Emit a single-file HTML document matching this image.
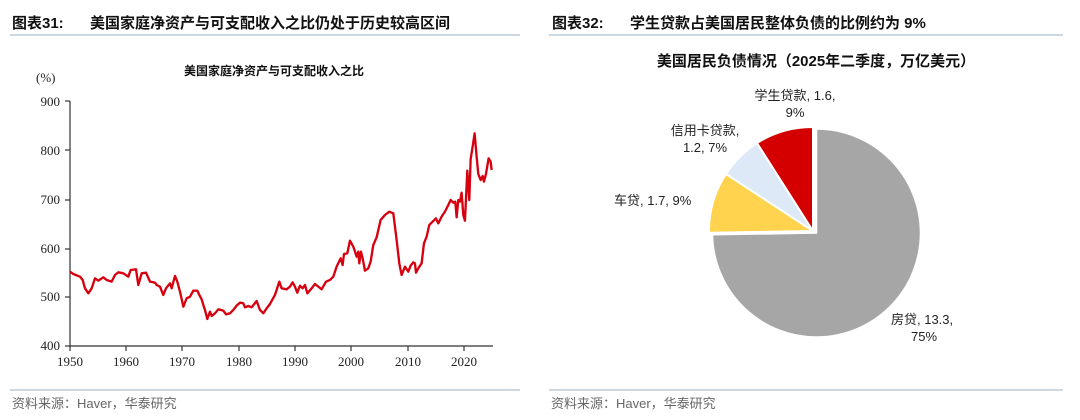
<!DOCTYPE html>
<html><head><meta charset="utf-8"><style>
body{margin:0;width:1080px;height:420px;background:#fff;overflow:hidden;font-family:"Liberation Sans","Noto Sans CJK SC",sans-serif;}
svg{position:absolute;left:0;top:0}
</style></head><body>
<svg width="1080" height="420" viewBox="0 0 1080 420" xmlns="http://www.w3.org/2000/svg" font-family="Liberation Sans, Noto Sans CJK SC, sans-serif">
<text x="12" y="28" font-size="15" font-weight="bold" fill="#111">图表31:</text>
<text x="90" y="28" font-size="15" font-weight="bold" fill="#111">美国家庭净资产与可支配收入之比仍处于历史较高区间</text>
<line x1="10" y1="35" x2="520" y2="35" stroke="#9ab0c8" stroke-width="1"/>
<text x="552" y="28" font-size="15" font-weight="bold" fill="#111">图表32:</text>
<text x="630" y="28" font-size="15" font-weight="bold" fill="#111">学生贷款占美国居民整体负债的比例约为 9%</text>
<line x1="549" y1="35" x2="1063" y2="35" stroke="#9ab0c8" stroke-width="1"/>

<text x="274" y="75" font-size="12" font-weight="bold" text-anchor="middle" fill="#111">美国家庭净资产与可支配收入之比</text>
<text x="36" y="82" font-size="13" fill="#222" font-family="Liberation Serif, serif">(%)</text>
<g font-family="Liberation Serif, serif" font-size="13" fill="#222" text-anchor="end">
<text x="60" y="106">900</text><text x="60" y="155">800</text><text x="60" y="204">700</text>
<text x="60" y="253">600</text><text x="60" y="301">500</text><text x="60" y="350">400</text>
</g>
<g stroke="#333" stroke-width="1.2" fill="none">
<line x1="70" y1="101" x2="70" y2="346"/>
<line x1="70" y1="346" x2="493" y2="346"/>
<line x1="65" y1="101" x2="70" y2="101"/><line x1="65" y1="150" x2="70" y2="150"/>
<line x1="65" y1="200" x2="70" y2="200"/><line x1="65" y1="249" x2="70" y2="249"/>
<line x1="65" y1="297" x2="70" y2="297"/><line x1="65" y1="346" x2="70" y2="346"/>
<line x1="70" y1="346" x2="70" y2="351"/><line x1="126" y1="346" x2="126" y2="351"/>
<line x1="182" y1="346" x2="182" y2="351"/><line x1="239" y1="346" x2="239" y2="351"/>
<line x1="295" y1="346" x2="295" y2="351"/><line x1="351" y1="346" x2="351" y2="351"/>
<line x1="408" y1="346" x2="408" y2="351"/><line x1="464" y1="346" x2="464" y2="351"/>
</g>
<g font-family="Liberation Serif, serif" font-size="13" fill="#222" text-anchor="middle">
<text x="70" y="366">1950</text><text x="126" y="366">1960</text><text x="182" y="366">1970</text>
<text x="239" y="366">1980</text><text x="295" y="366">1990</text><text x="351" y="366">2000</text>
<text x="408" y="366">2010</text><text x="464" y="366">2020</text>
</g>
<g transform="translate(60,100) scale(0.3333)">
<polyline fill="none" stroke="#d7000f" stroke-width="7" stroke-linejoin="round" points="30,515 40,522 60,530 68,540 75,565 85,580 95,565 105,535 115,542 130,532 140,540 155,545 165,525 175,517 190,520 205,530 212,510 228,508 235,555 245,520 258,518 270,545 285,548 290,555 300,560 310,585 318,565 330,550 335,565 345,528 352,545 360,575 370,620 380,595 390,590 400,572 412,572 418,585 425,598 430,615 435,630 442,657 450,635 455,648 465,640 475,628 490,632 498,643 510,640 520,630 530,617 540,608 550,610 555,622 565,618 575,622 590,603 600,630 610,640 620,625 630,612 645,585 658,545 665,565 680,568 690,560 698,547 705,560 712,578 720,557 728,565 735,555 742,580 755,565 765,552 775,560 785,568 798,545 810,540 820,530 830,500 842,475 848,495 852,462 862,460 870,422 880,440 890,470 895,455 898,490 903,455 908,475 915,512 925,505 932,485 940,435 950,412 962,360 975,345 988,335 1000,340 1010,420 1018,490 1025,525 1035,500 1045,515 1052,497 1060,487 1065,490 1068,518 1075,505 1085,490 1092,430 1100,410 1108,375 1118,365 1128,355 1135,370 1145,350 1155,335 1165,315 1172,300 1180,308 1186,305 1190,352 1195,300 1200,305 1205,278 1210,345 1215,362 1222,212 1228,300 1232,178 1238,140 1244,100 1250,170 1255,222 1262,240 1268,228 1272,245 1278,222 1286,175 1292,185 1295,210"/>
</g>

<text x="816" y="66" font-size="15" font-weight="bold" text-anchor="middle" fill="#111">美国居民负债情况（2025年二季度，万亿美元）</text>
<path d="M816.5,233 L816.5,129 A104,104 0 1 1 712.5,234.8 Z" fill="#a6a6a6" stroke="#fff" stroke-width="1.5"/>
<path d="M813,231 L709,232.8 A104,104 0 0 1 726,174 Z" fill="#ffd34d" stroke="#fff" stroke-width="2"/>
<path d="M813,231 L726,174 A104,104 0 0 1 757,143 Z" fill="#dde9f6" stroke="#fff" stroke-width="2"/>
<path d="M813,231 L757,143 A104,104 0 0 1 813,127 Z" fill="#d40000" stroke="#fff" stroke-width="2"/>
<g font-size="13" fill="#222">
<text x="795" y="100" text-anchor="middle">学生贷款, 1.6,</text>
<text x="795" y="117" text-anchor="middle">9%</text>
<text x="705" y="135" text-anchor="middle">信用卡贷款,</text>
<text x="705" y="152" text-anchor="middle">1.2, 7%</text>
<text x="614" y="205">车贷, 1.7, 9%</text>
<text x="891" y="324">房贷, 13.3,</text>
<text x="924" y="341" text-anchor="middle">75%</text>
</g>

<line x1="10" y1="390" x2="520" y2="390" stroke="#9ab0c8" stroke-width="1"/>
<line x1="549" y1="390" x2="1063" y2="390" stroke="#9ab0c8" stroke-width="1"/>
<text x="12" y="408" font-size="13" fill="#666">资料来源：Haver，华泰研究</text>
<text x="551" y="408" font-size="13" fill="#666">资料来源：Haver，华泰研究</text>
</svg>
</body></html>
